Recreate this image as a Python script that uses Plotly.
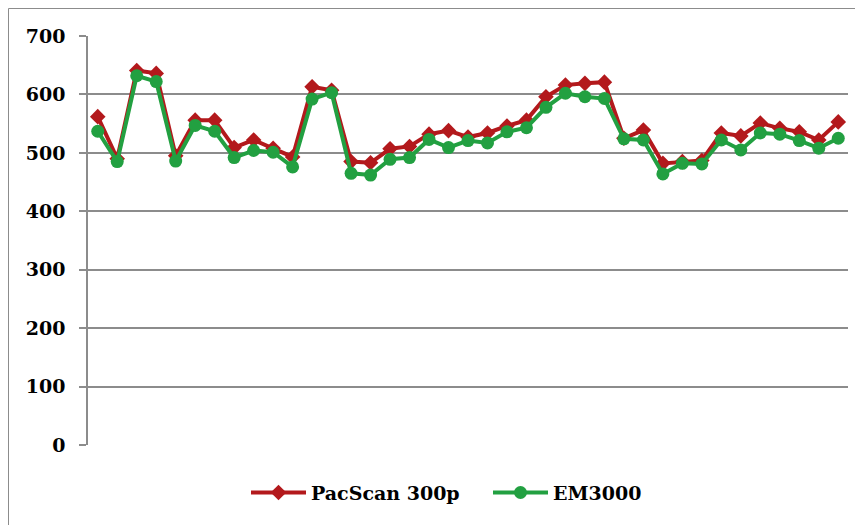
import plotly.graph_objects as go

categories = list(range(1, 40))
pacscan = [562, 490, 641, 636, 495, 556, 556, 509, 522, 508,
           493, 613, 607, 485, 483, 507, 511, 532, 538, 527,
           534, 546, 556, 596, 616, 619, 621, 525, 539, 482,
           485, 487, 534, 529, 551, 542, 536, 522, 553]
em3000 = [537, 485, 632, 622, 486, 547, 537, 492, 504, 501,
          476, 592, 603, 465, 462, 489, 492, 523, 509, 521,
          517, 536, 543, 578, 602, 596, 593, 524, 522, 464,
          482, 481, 522, 505, 534, 532, 521, 508, 525]
y_ticks = [0, 100, 200, 300, 400, 500, 600, 700]

RED = "#B3191C"
GREEN = "#22A041"
FONT = "DejaVu Serif"

fig = go.Figure()
fig.add_trace(go.Scatter(
    x=categories, y=pacscan, name="PacScan 300p", mode="lines+markers",
    line=dict(color=RED, width=4),
    marker=dict(symbol="diamond", size=12, color=RED),
))
fig.add_trace(go.Scatter(
    x=categories, y=em3000, name="EM3000", mode="lines+markers",
    line=dict(color=GREEN, width=4),
    marker=dict(symbol="circle", size=13, color=GREEN),
))

fig.update_layout(
    width=863, height=525,
    margin=dict(l=80, r=23, t=28, b=88, autoexpand=False),
    plot_bgcolor="white", paper_bgcolor="white",
    font=dict(family=FONT, size=19, color="black"),
    showlegend=True,
    legend=dict(orientation="h", x=0.5 + 20 / 760, xanchor="center", y=-0.07, yanchor="top",
                font=dict(family=FONT, size=19, color="black", weight="bold"),
                itemwidth=55, entrywidth=172, entrywidthmode="pixels"),
    xaxis=dict(range=[0.5, 39.5], showticklabels=False, showgrid=False,
               zeroline=False, showline=False, ticks="", automargin=False),
    yaxis=dict(range=[0, 700], tickvals=y_ticks, showgrid=True,
               gridcolor="#8C8C8C", gridwidth=1.5, zeroline=False,
               showline=True, linecolor="#8C8C8C", linewidth=1.5,
               ticks="outside", ticklen=7, tickcolor="#8C8C8C", tickwidth=1.5,
               ticklabelstandoff=10, automargin=False,
               tickfont=dict(family=FONT, size=19, color="black", weight="bold")),
    shapes=[dict(type="rect", xref="paper", yref="paper",
                 x0=(0.5 - 80) / 760, x1=(860 - 80) / 760,
                 y0=(437 - 540) / 409, y1=(437 - 0.5) / 409,
                 line=dict(color="#8C8C8C", width=1), fillcolor="rgba(0,0,0,0)",
                 layer="below")],
)

fig.write_html("out.html")
